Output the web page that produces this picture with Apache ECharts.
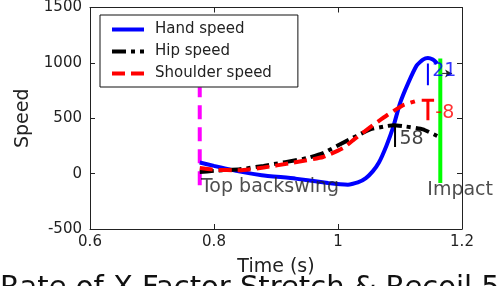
<!DOCTYPE html>
<html>
<head>
<meta charset="utf-8">
<script src="https://cdn.jsdelivr.net/npm/echarts@6/dist/echarts.min.js"></script>
<style>
html,body{margin:0;padding:0;background:#fff;}
#main{width:499px;height:286px;}
</style>
</head>
<body>
<div id="main"></div>
<script>
// speed curves (time in s, speed)
var handTime  = [0.777, 0.80, 0.84, 0.877, 0.931, 0.984, 1.016, 1.032, 1.045, 1.056, 1.066, 1.078, 1.089, 1.10, 1.113, 1.127, 1.137, 1.145, 1.153, 1.16];
var handSpeed = [100, 70, 20, -14, -45, -85, -100, -80, -40, 20, 100, 250, 419, 635, 815, 977, 1030, 1045, 1030, 995];

var hipTime  = [0.777, 0.80, 0.842, 0.88, 0.95, 0.976, 1.005, 1.03, 1.052, 1.079, 1.09, 1.11, 1.137, 1.16];
var hipSpeed = [15, 25, 40, 70, 140, 185, 270, 340, 400, 430, 437, 425, 400, 340];

var shoulderTime  = [0.777, 0.80, 0.842, 0.88, 0.923, 0.976, 1.008, 1.024, 1.052, 1.079, 1.105, 1.124];
var shoulderSpeed = [50, 35, 30, 55, 95, 150, 230, 300, 420, 527, 617, 653];

// event lines
var backswingTime = 0.777, backswingRange = [-105, 780];
var impactTime = 1.165, impactRange = [-85, 1040];

// peak markers: [time, low, high]
var handPeak = [1.145, 797, 995];
var hipPeak = [1.092, 240, 437];
var shoulderPeak = [1.145, 482, 662];

var xTicks = {min: 0.6, max: 1.2, step: 0.2};
var yTicks = {min: -500, max: 1500, step: 500};

var FONT = 'DejaVu Sans';

function pairs(xs, ys) {
	var out = [];
	for (var i = 0; i < xs.length; i++) out.push([xs[i], ys[i]]);
	return out;
}
function vline(t, lo, hi) { return [[t, lo], [t, hi]]; }
function tee(p, half) {
	// vertical bar plus a short top bar
	return [[p[0], p[1]], [p[0], p[2]], [p[0] - half, p[2]], [p[0] + half, p[2]]];
}

var myChart = echarts.init(document.getElementById('main'));

function plainLine(name, data, color, width, type, z) {
	return {
		name: name, type: 'line', data: data, symbol: 'none', silent: true, z: z,
		lineStyle: {color: color, width: width, type: type},
		itemStyle: {color: color}
	};
}

function axisX(pos, labels) {
	return {
		type: 'value', position: pos, min: xTicks.min, max: xTicks.max, interval: xTicks.step,
		axisLine: {show: true, onZero: false, lineStyle: {color: '#222', width: 1}},
		axisTick: {show: true, inside: true, length: 5, lineStyle: {color: '#222'}},
		axisLabel: {show: labels, margin: 6, color: '#222', fontFamily: FONT, fontSize: 15},
		splitLine: {show: false}
	};
}
function axisY(pos, labels) {
	return {
		type: 'value', position: pos, min: yTicks.min, max: yTicks.max, interval: yTicks.step,
		axisLine: {show: true, onZero: false, lineStyle: {color: '#222', width: 1}},
		axisTick: {show: true, inside: true, length: 5, lineStyle: {color: '#222'}},
		axisLabel: {show: labels, margin: 8, color: '#222', fontFamily: FONT, fontSize: 15,
			formatter: function (v) { return String(v); }},
		splitLine: {show: false}
	};
}

var xMain = axisX('bottom', true);
xMain.name = 'Time (s)';
xMain.nameLocation = 'middle';
xMain.nameGap = 29;
xMain.nameTextStyle = {color: '#222', fontFamily: FONT, fontSize: 19};
var yMain = axisY('left', true);
yMain.name = 'Speed';
yMain.nameLocation = 'middle';
yMain.nameGap = 56;
yMain.nameTextStyle = {color: '#222', fontFamily: FONT, fontSize: 19};

var option = {
	backgroundColor: '#fff',
	animation: false,
	title: {
		text: 'Rate of X Factor Stretch & Recoil 5',
		left: 0, top: 274, padding: 0,
		textStyle: {color: '#111', fontFamily: FONT, fontSize: 29, fontWeight: 'normal'}
	},
	grid: {left: 90, right: 37, top: 7, bottom: 57},
	legend: {
		orient: 'vertical', left: 100, top: 15,
		data: ['Hand speed', 'Hip speed', 'Shoulder speed'],
		itemWidth: 32, itemHeight: 14, itemGap: 7,
		padding: [7, 26, 6, 10],
		backgroundColor: '#fff', borderColor: '#111', borderWidth: 1,
		itemStyle: {color: 'rgba(0,0,0,0)', borderWidth: 0, opacity: 0},
		lineStyle: {width: 4},
		textStyle: {color: '#222', fontFamily: FONT, fontSize: 15, padding: [0, 0, 0, 6]}
	},
	xAxis: [xMain, axisX('top', false)],
	yAxis: [yMain, axisY('right', false)],
	series: [
		plainLine('backswing', vline(backswingTime, backswingRange[0], backswingRange[1]), '#ff00ff', 4, [14, 8], 1),
		(function () {
			var s = plainLine('Hand speed', pairs(handTime, handSpeed), '#0000ff', 4, 'solid', 2);
			s.smooth = 0.15;
			return s;
		})(),
		(function () {
			var s = plainLine('Hip speed', pairs(hipTime, hipSpeed), '#000000', 4, [14, 5, 4, 5], 3);
			s.smooth = 0.15;
			return s;
		})(),
		(function () {
			var s = plainLine('Shoulder speed', pairs(shoulderTime, shoulderSpeed), '#ff0000', 4, [13, 6], 4);
			s.smooth = 0.15;
			return s;
		})(),
		plainLine('impact', vline(impactTime, impactRange[0], impactRange[1]), '#00ff00', 4, 'solid', 5),
		plainLine('handPeak', vline(handPeak[0], handPeak[1], handPeak[2]), '#0000ff', 2, 'solid', 6),
		plainLine('hipPeak', tee(hipPeak, 0.01), '#000000', 2, 'solid', 6),
		plainLine('shoulderPeak', tee(shoulderPeak, 0.01), '#ff0000', 3, 'solid', 6),
		{
			name: 'arrow', type: 'line', silent: true, z: 7,
			lineStyle: {color: '#222', width: 1}, itemStyle: {color: '#222'},
			data: [
				{value: [1.168, 905], symbol: 'none'},
				{value: [1.184, 905], symbol: 'arrow', symbolSize: [6, 7], symbolRotate: -90}
			]
		},
		{
			name: 'notes', type: 'scatter', symbolSize: 0, silent: true, z: 8,
			label: {show: true, position: 'right', distance: 0, formatter: '{b}',
				fontFamily: FONT, fontSize: 19, color: '#222'},
			data: [
				{name: 'Top backswing', value: [0.779, -125]},
				{name: 'Impact', value: [1.144, -150]},
				{name: '21', value: [1.152, 925], label: {color: '#0000ff'}},
				{name: '-8', value: [1.157, 545], label: {color: '#ff0000'}},
				{name: '58', value: [1.099, 315], label: {color: '#111'}}
			]
		}
	]
};

myChart.setOption(option);
</script>
</body>
</html>
